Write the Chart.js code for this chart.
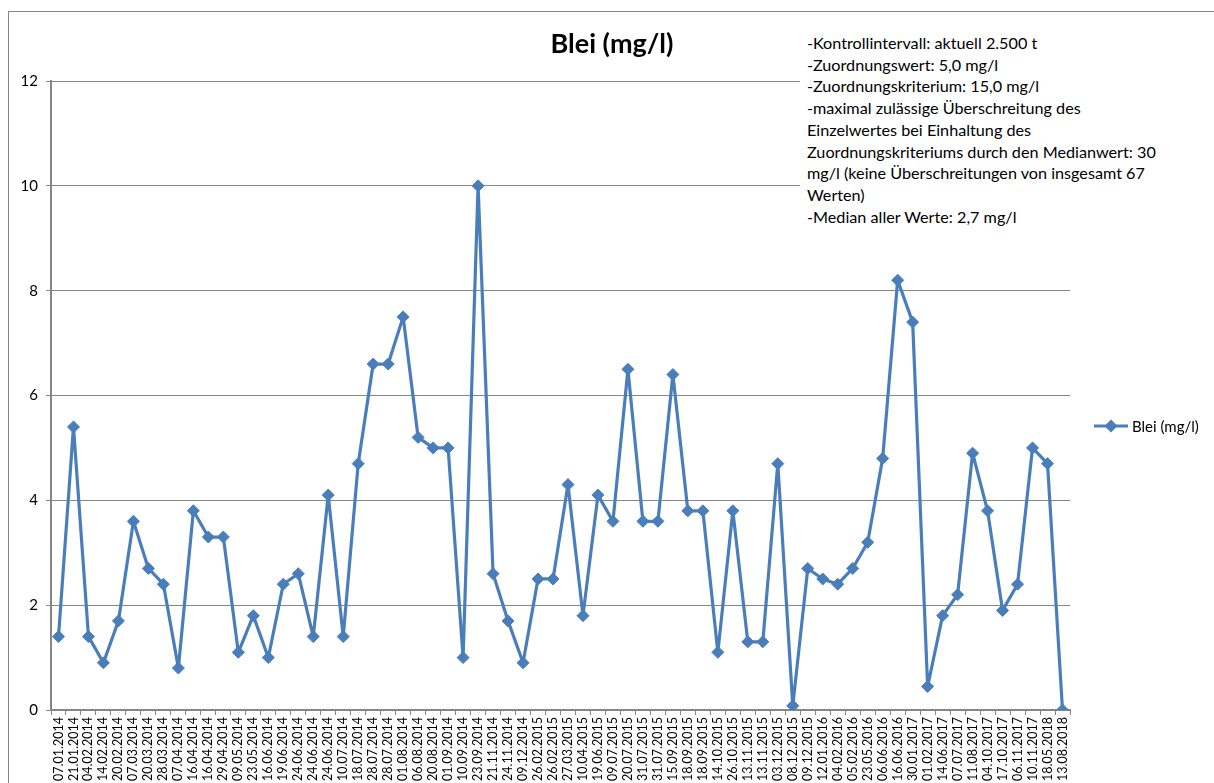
<!DOCTYPE html>
<html>
<head>
<meta charset="utf-8">
<script src="https://cdn.jsdelivr.net/npm/chart.js@4.4.1/dist/chart.umd.min.js"></script>
<style>
html,body{margin:0;padding:0;background:#fff;}
#wrap{position:relative;width:1214px;height:783px;overflow:hidden;}
#c{position:absolute;left:0;top:0;}
#title{position:absolute;left:0;width:1224px;top:27px;text-align:center;font:bold 27px Lato, "Open Sans", sans-serif;color:#000;line-height:32px;}
#note{position:absolute;left:800px;top:32px;width:400px;padding:0 0 6px 7px;background:#fff;font:16.2px Lato, "Open Sans", sans-serif;line-height:21.7px;color:#000;white-space:nowrap;}
</style>
</head>
<body>
<div id="wrap">
<canvas id="c" width="1214" height="783"></canvas>
<div id="title">Blei (mg/l)</div>
<div id="note">
-Kontrollintervall: aktuell 2.500 t<br>
-Zuordnungswert: 5,0 mg/l<br>
-Zuordnungskriterium: 15,0 mg/l<br>
-maximal zulässige Überschreitung des<br>
Einzelwertes bei Einhaltung des<br>
Zuordnungskriteriums durch den Medianwert: 30<br>
mg/l (keine Überschreitungen von insgesamt 67<br>
Werten)<br>
-Median aller Werte: 2,7 mg/l
</div>
</div>
<script>
const categories = [
  "07.01.2014","21.01.2014","04.02.2014","14.02.2014","20.02.2014","07.03.2014","20.03.2014","28.03.2014","07.04.2014","16.04.2014",
  "16.04.2014","29.04.2014","09.05.2014","23.05.2014","16.06.2014","19.06.2014","24.06.2014","24.06.2014","24.06.2014","10.07.2014",
  "18.07.2014","28.07.2014","28.07.2014","01.08.2014","06.08.2014","20.08.2014","01.09.2014","10.09.2014","23.09.2014","21.11.2014",
  "24.11.2014","09.12.2014","26.02.2015","26.02.2015","27.03.2015","10.04.2015","19.06.2015","09.07.2015","20.07.2015","31.07.2015",
  "31.07.2015","15.09.2015","18.09.2015","18.09.2015","14.10.2015","26.10.2015","13.11.2015","13.11.2015","03.12.2015","08.12.2015",
  "09.12.2015","12.01.2016","04.02.2016","05.02.2016","23.05.2016","06.06.2016","16.06.2016","30.01.2017","01.02.2017","14.06.2017",
  "07.07.2017","11.08.2017","04.10.2017","17.10.2017","06.11.2017","10.11.2017","18.05.2018","13.08.2018"
];
const bleiValues = [
  1.4, 5.4, 1.4, 0.9, 1.7, 3.6, 2.7, 2.4, 0.8, 3.8,
  3.3, 3.3, 1.1, 1.8, 1.0, 2.4, 2.6, 1.4, 4.1, 1.4,
  4.7, 6.6, 6.6, 7.5, 5.2, 5.0, 5.0, 1.0, 10, 2.6,
  1.7, 0.9, 2.5, 2.5, 4.3, 1.8, 4.1, 3.6, 6.5, 3.6,
  3.6, 6.4, 3.8, 3.8, 1.1, 3.8, 1.3, 1.3, 4.7, 0.08,
  2.7, 2.5, 2.4, 2.7, 3.2, 4.8, 8.2, 7.4, 0.45, 1.8,
  2.2, 4.9, 3.8, 1.9, 2.4, 5.0, 4.7, 0
];
const yTickValues = [0, 2, 4, 6, 8, 10, 12];
const seriesLabel = "Blei (mg/l)";

const FONT = 'Lato, "Open Sans", sans-serif';
const GRAY = '#868686';
const BLUE = '#4A7EBB';

const frameAndLegend = {
  id: 'frameAndLegend',
  beforeDraw(chart) {
    const ctx = chart.ctx;
    ctx.save();
    ctx.fillStyle = '#fff';
    ctx.fillRect(0, 0, chart.width, chart.height);
    ctx.strokeStyle = GRAY;
    ctx.lineWidth = 1;
    ctx.strokeRect(8.5, 11.5, 1240, 800);
    ctx.restore();
  },
  afterDraw(chart) {
    const ctx = chart.ctx;
    const ds = chart.data.datasets[0];
    const y = 426;
    ctx.save();
    ctx.strokeStyle = ds.borderColor;
    ctx.lineWidth = 3.2;
    ctx.beginPath();
    ctx.moveTo(1094, y);
    ctx.lineTo(1128, y);
    ctx.stroke();
    ctx.fillStyle = ds.pointBackgroundColor;
    ctx.beginPath();
    ctx.moveTo(1111, y - 6.5);
    ctx.lineTo(1117.5, y);
    ctx.lineTo(1111, y + 6.5);
    ctx.lineTo(1104.5, y);
    ctx.closePath();
    ctx.fill();
    ctx.fillStyle = '#000';
    ctx.font = '15px ' + FONT;
    ctx.textBaseline = 'middle';
    ctx.fillText(ds.label, 1132, y + 1);
    ctx.restore();
  }
};

new Chart(document.getElementById('c'), {
  type: 'line',
  data: {
    labels: categories,
    datasets: [{
      label: seriesLabel,
      data: bleiValues,
      borderColor: BLUE,
      backgroundColor: BLUE,
      pointBackgroundColor: BLUE,
      pointBorderColor: BLUE,
      pointStyle: 'rectRot',
      pointRadius: 6,
      pointBorderWidth: 1,
      borderWidth: 3.2,
      borderJoinStyle: 'round',
      borderCapStyle: 'round',
      tension: 0,
      fill: false
    }]
  },
  options: {
    responsive: false,
    animation: false,
    devicePixelRatio: 1,
    layout: { padding: { left: 0, right: 144, top: 81, bottom: 0 } },
    plugins: {
      legend: { display: false },
      title: { display: false },
      tooltip: { enabled: false }
    },
    scales: {
      x: {
        type: 'category',
        offset: true,
        afterFit(scale) { scale.height = 73; },
        grid: {
          offset: true,
          drawOnChartArea: false,
          drawTicks: true,
          tickLength: 5,
          tickColor: GRAY,
          tickWidth: 1
        },
        border: { color: GRAY, width: 2 },
        ticks: {
          autoSkip: false,
          minRotation: 90,
          maxRotation: 90,
          padding: 2,
          color: '#000',
          font: { family: FONT, size: 12.5 }
        }
      },
      y: {
        min: 0,
        max: 12,
        afterFit(scale) { scale.width = 51; },
        afterBuildTicks(scale) { scale.ticks = yTickValues.map(v => ({ value: v })); },
        grid: {
          color: GRAY,
          lineWidth: 1,
          drawTicks: true,
          tickLength: 5,
          tickColor: GRAY
        },
        border: { color: GRAY, width: 2 },
        ticks: {
          padding: 8,
          color: '#000',
          font: { family: FONT, size: 15 }
        }
      }
    }
  },
  plugins: [frameAndLegend]
});
</script>
</body>
</html>
